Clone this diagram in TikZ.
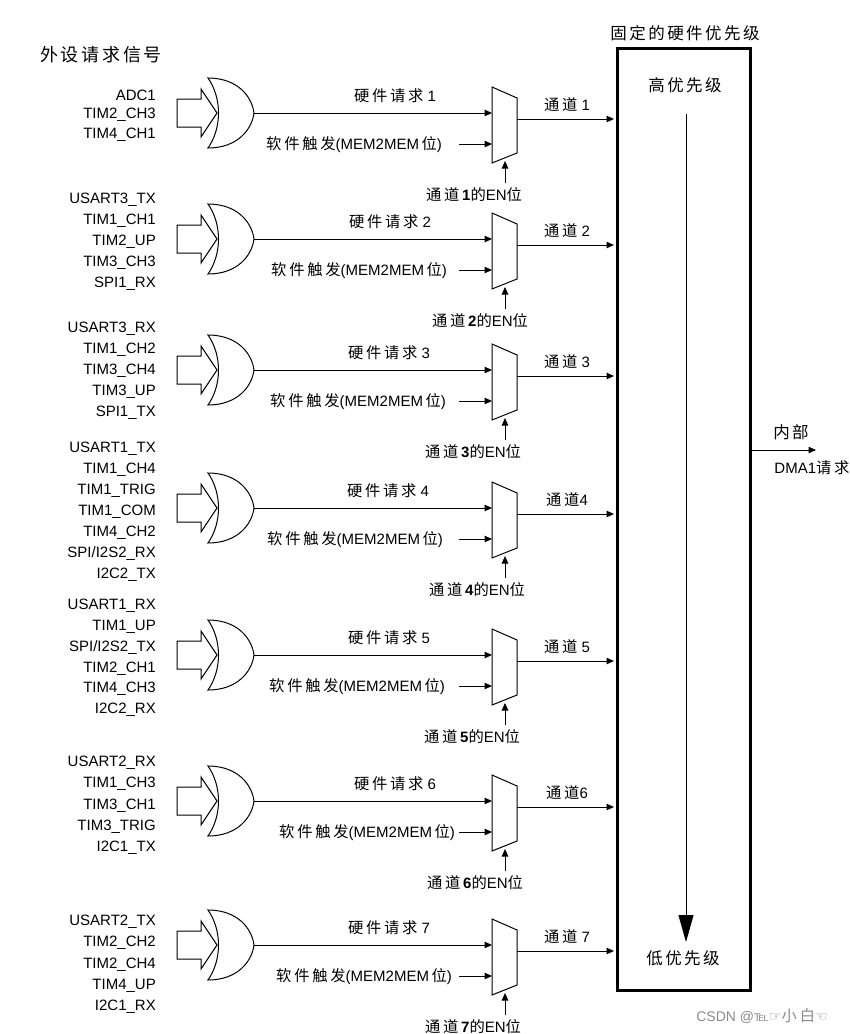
\documentclass[tikz,border=0pt]{standalone}
\usepackage{fontspec}
\setmainfont{Liberation Sans}
\newfontfamily\cjk[LetterSpace=18]{Noto Sans CJK SC}
\newfontfamily\cjkb[LetterSpace=15]{Noto Sans CJK SC}
\newfontfamily\sym{DejaVu Sans}
\usetikzlibrary{arrows.meta}
\newcommand\zh[1]{{\cjk\fontsize{15.3}{17}\selectfont #1}}
\newcommand\zhbig[2]{{\cjkb\fontsize{#1}{#1}\selectfont #2}}
\tikzset{
  sig/.style={inner sep=0pt, font=\fontsize{15}{18}\selectfont},
  lab/.style={inner sep=0pt, font=\fontsize{15}{18}\selectfont},
  arr/.style={-{Triangle[length=7.5pt,width=6.5pt]}},
  wire/.style={line width=1pt},
}
% #1 Y, #2 n, #3 hw label x, #4 sw label right x, #5 EN label x, #6 first signal y, #7 spacing, #8 signals
\newcommand\chan[9]{%
  \foreach \s [count=\k from 0] in {#8} {\node[sig, anchor=east] (s#2-\k) at (156,#6+#7*\k) {\s};}
  % hollow arrow
  \draw[wire] (177,#1-14) -- (201,#1-14) -- (201,#1-24) -- (217,#1) -- (201,#1+24) -- (201,#1+14) -- (177,#1+14) -- cycle;
  % OR gate
  \draw[wire] (208,#1-35) .. controls (222,#1-15) and (222,#1+15) .. (208,#1+35)
     .. controls (238,#1+35) and (252,#1+16) .. (254,#1)
     .. controls (252,#1-16) and (238,#1-35) .. (208,#1-35) -- cycle;
  \coordinate (or#2) at (254,#1);
  \coordinate (mh#2) at (492,#1);
  \draw[wire,arr] (or#2) -- (mh#2);
  \node[lab] (hl#2) at (#3,#1-17) {\zh{硬件请求} #2};
  % mux
  \draw[wire] (492,#1-26) -- (517,#1-15) -- (517,#1+40) -- (492,#1+50) -- cycle;
  \coordinate (mo#2) at (517,#1+6);
  \draw[wire,arr,shorten >=1.5pt] (mo#2) -- (mo#2 -| box.west);
  \node[lab] (cl#2) at (567,#1-8) {\zh{通道}#9};
  % software trigger
  \coordinate (ss#2) at (459,#1+31);
  \coordinate (se#2) at (492,#1+31);
  \draw[wire,arr] (ss#2) -- (se#2);
  \node[lab, anchor=east] (sl#2) at (#4,#1+32) {\zh{软件触发}(MEM2MEM\,\zh{位})};
  % enable
  \coordinate (es#2) at (505,#1+70);
  \coordinate (ee#2) at (505,#1+48);
  \draw[wire,arr] (es#2) -- (ee#2);
  \node[lab] (el#2) at (#5,#1+82) {\zh{通道}\textbf{#2}\zh{的}EN\zh{位}};
}
\begin{document}
\begin{tikzpicture}[x=1pt,y=-1pt]
\useasboundingbox (0,0) rectangle (850,1034);
\fill[white] (0,0) rectangle (850,1034);
% priority box
\node[draw, line width=3pt, minimum width=133pt, minimum height=942pt, inner sep=0pt] (box) at (683.5,519) {};
\node[inner sep=0pt] (title) at (685,33) {\zhbig{16.5}{固定的硬件优先级}};
\node[inner sep=0pt] (hi) at (685,85) {\zhbig{16.5}{高优先级}};
\node[inner sep=0pt] (lo) at (683,958) {\zhbig{16.5}{低优先级}};
\coordinate (pa) at (686,114);
\coordinate (pb) at (686,942);
\draw[wire,-{Triangle[length=27pt,width=15pt]}] (pa) -- (pb);
% output
\coordinate (oa) at (750,450);
\coordinate (ob) at (816,450);
\draw[wire,arr] (oa) -- (ob);
\node[inner sep=0pt] (nb) at (791,432) {\zhbig{16.5}{内部}};
\node[lab] (dma) at (812,468) {DMA1\zh{请求}};
% left title
\node[inner sep=0pt] (src) at (101,55) {\zhbig{18}{外设请求信号}};
% channels
\chan{113}{1}{395}{442}{474}{95}{20}{ADC1,TIM2\_CH3,TIM4\_CH1}{ 1}
\chan{239}{2}{390}{447}{480}{200}{21}{USART3\_TX,TIM1\_CH1,TIM2\_UP,TIM3\_CH3,SPI1\_RX}{ 2}
\chan{370}{3}{389}{446}{473}{329}{21}{USART3\_RX,TIM1\_CH2,TIM3\_CH4,TIM3\_UP,SPI1\_TX}{ 3}
\chan{508}{4}{388}{443}{477}{449}{21}{USART1\_TX,TIM1\_CH4,TIM1\_TRIG,TIM1\_COM,TIM4\_CH2,SPI/I2S2\_RX,I2C2\_TX}{4}
\chan{655}{5}{389}{445}{472}{606}{20.8}{USART1\_RX,TIM1\_UP,SPI/I2S2\_TX,TIM2\_CH1,TIM4\_CH3,I2C2\_RX}{ 5}
\chan{801}{6}{395}{455}{475}{763}{21.2}{USART2\_RX,TIM1\_CH3,TIM3\_CH1,TIM3\_TRIG,I2C1\_TX}{6}
\chan{945}{7}{389}{452}{473}{922}{21.2}{USART2\_TX,TIM2\_CH2,TIM2\_CH4,TIM4\_UP,I2C1\_RX}{ 7}
% watermark
\node[inner sep=0pt, text=black!45, font=\fontsize{14}{16}\selectfont] (wm) at (762,1016) {CSDN @{\sym ℡☞}\zh{小白}{\sym ☜}};
\end{tikzpicture}
\end{document}
